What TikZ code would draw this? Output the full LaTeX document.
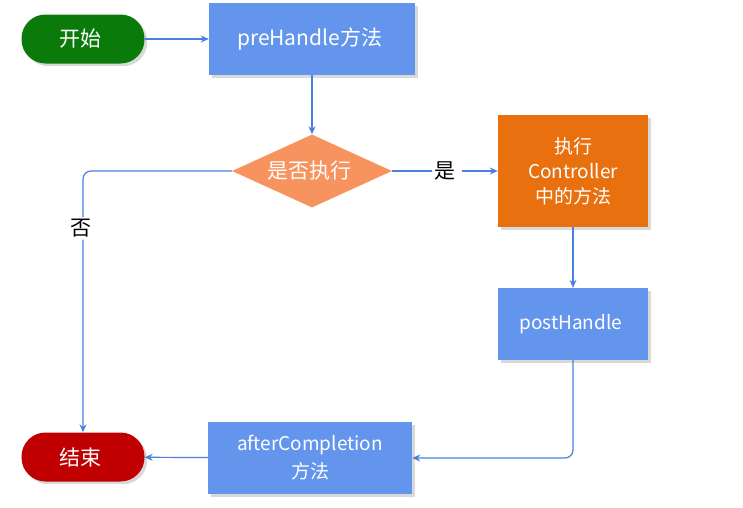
\documentclass[tikz,border=0pt]{standalone}
\usepackage{fontspec}
\setmainfont{Noto Sans CJK SC}
\usetikzlibrary{positioning, shapes.geometric, arrows.meta, shadows}

\definecolor{boxblue}{HTML}{6495ED}
\definecolor{boxorange}{HTML}{E8700F}
\definecolor{diasalmon}{HTML}{F7935F}
\definecolor{linkblue}{HTML}{4A80E0}
\definecolor{startgreen}{HTML}{0A7A0A}
\definecolor{endred}{HTML}{C00000}

\begin{document}
\begin{tikzpicture}[x = 1pt, y = -1pt,
    every node/.style = { align = center, text = white, font = \fontsize{21}{24}\selectfont },
    terminal/.style = { shape = rectangle, rounded corners = 24pt, minimum width = 123pt, minimum height = 49pt, drop shadow = {opacity = .3} },
    procbox/.style = { shape = rectangle, fill = boxblue, minimum height = 72pt, drop shadow = {opacity = .3} },
    decision/.style = { shape = diamond, fill = diasalmon, aspect = 2.2, minimum width = 160pt, minimum height = 73pt, inner sep = 0pt },
    link/.style = { draw = linkblue, line width = 1.2pt, -{Stealth[length = 8pt, width = 7pt]} },
    answer/.style = { fill = white, text = black, inner sep = 2pt }]
  \useasboundingbox (0,0) rectangle (743,507);

  \node [terminal, fill = startgreen] (start) at (83,39) { 开始 };
  \node [procbox, minimum width = 206pt] (pre) at (312,39) { preHandle方法 };
  \node [decision] (check) at (312,171) { 是否执行 };
  \node [procbox, fill = boxorange, minimum width = 150pt, minimum height = 112pt,
         font = \fontsize{19}{25}\selectfont] (ctrl) at (573,171) { 执行 \\ Controller \\ 中的方法 };
  \node [procbox, minimum width = 150pt, font = \fontsize{19}{24}\selectfont] (post) at (573,324) { postHandle };
  \node [procbox, minimum width = 204pt, font = \fontsize{19}{28}\selectfont] (after) at (310,458) { afterCompletion \\ 方法 };
  \node [terminal, fill = endred] (end) at (83,457) { 结束 };

  \draw [link] (start) -- (pre);
  \draw [link] (pre) -- (check);
  \draw [link] (check) -- node [answer, pos = .52] { 是 } (ctrl);
  \draw [link, rounded corners = 8pt] (check.west) -- (83,171) -- node [answer, pos = .22] { 否 } (end.north);
  \draw [link] (ctrl) -- (post);
  \draw [link, rounded corners = 8pt] (post.south) -- (573,458) -- (after.east);
  \draw [link] (after) -- (end);
\end{tikzpicture}
\end{document}
